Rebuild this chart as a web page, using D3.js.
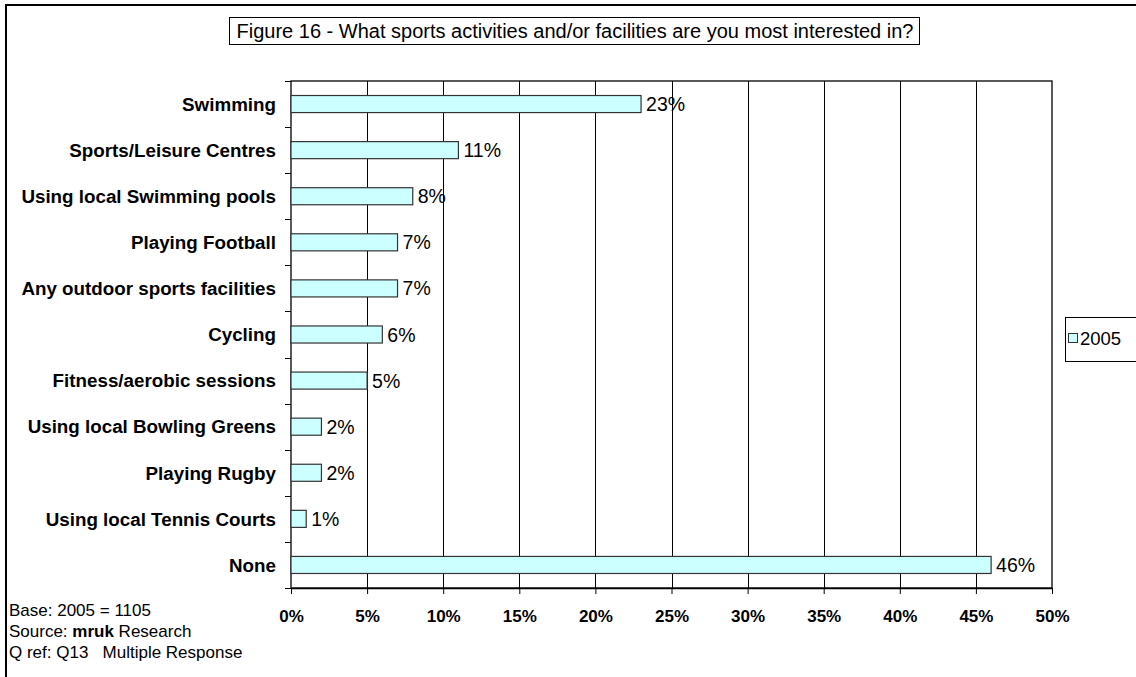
<!DOCTYPE html>
<html>
<head>
<meta charset="utf-8">
<script src="https://cdn.jsdelivr.net/npm/d3@7"></script>
<style>
  html, body { margin: 0; padding: 0; background: #fff; }
  svg { display: block; font-family: "Liberation Sans", Arial, sans-serif; }
</style>
</head>
<body>
<svg id="chart" width="1136" height="677"></svg>
<script>
// Survey responses, share of respondents (%)
const categories = [
  "Swimming",
  "Sports/Leisure Centres",
  "Using local Swimming pools",
  "Playing Football",
  "Any outdoor sports facilities",
  "Cycling",
  "Fitness/aerobic sessions",
  "Using local Bowling Greens",
  "Playing Rugby",
  "Using local Tennis Courts",
  "None"
];
const values2005 = [23, 11, 8, 7, 7, 6, 5, 2, 2, 1, 46];
const xTicks = [0, 5, 10, 15, 20, 25, 30, 35, 40, 45, 50];
const seriesName = "2005";
const titleText = "Figure 16 - What sports activities and/or facilities are you most interested in?";
const footLines = ["Base: 2005 = 1105", "Source: ", "Q ref: Q13   Multiple Response"];

const svg = d3.select("#chart");
const W = 1136, H = 677;
const plot = { left: 291, right: 1052, top: 81, bottom: 588 };

// Outer chart frame (runs off the right and bottom edges)
svg.append("rect")
  .attr("x", 6).attr("y", 5)
  .attr("width", W + 20).attr("height", H + 20)
  .attr("fill", "#fff").attr("stroke", "#000").attr("stroke-width", 2);

const x = d3.scaleLinear().domain([0, 50]).range([plot.left, plot.right]);
const y = d3.scaleBand().domain(categories).range([plot.top, plot.bottom]).paddingInner(0.63).paddingOuter(0.315);

// Plot area
svg.append("rect")
  .attr("x", plot.left).attr("y", plot.top)
  .attr("width", plot.right - plot.left).attr("height", plot.bottom - plot.top)
  .attr("fill", "#fff").attr("stroke", "#000").attr("stroke-width", 1.3);

// Vertical gridlines
svg.append("g").selectAll("line").data(xTicks.slice(1, -1)).join("line")
  .attr("x1", d => Math.round(x(d)) + 0.5).attr("x2", d => Math.round(x(d)) + 0.5)
  .attr("y1", plot.top).attr("y2", plot.bottom)
  .attr("stroke", "#000").attr("stroke-width", 1);

// X axis
const xAxis = svg.append("g")
  .attr("transform", `translate(0,${plot.bottom})`)
  .call(d3.axisBottom(x).tickValues(xTicks).tickFormat(d => d + "%").tickSize(6).tickSizeOuter(0));
xAxis.select(".domain").attr("stroke", "#000").attr("stroke-width", 1.3);
xAxis.selectAll(".tick line").attr("stroke", "#000");
xAxis.selectAll(".tick text")
  .attr("y", 22)
  .attr("fill", "#000")
  .style("font-size", "17px").style("font-weight", "bold")
  .style("font-family", "'Liberation Sans', Arial, sans-serif");

// Y axis ticks at band boundaries
const boundaries = d3.range(categories.length + 1).map(i => plot.top + i * (plot.bottom - plot.top) / categories.length);
svg.append("g").selectAll("line").data(boundaries).join("line")
  .attr("x1", plot.left - 6).attr("x2", plot.left)
  .attr("y1", d => Math.round(d) + 0.5).attr("y2", d => Math.round(d) + 0.5)
  .attr("stroke", "#000");

// Category labels
svg.append("g").selectAll("text").data(categories).join("text")
  .attr("x", 276)
  .attr("y", d => y(d) + y.bandwidth() / 2)
  .attr("dy", "0.36em")
  .attr("text-anchor", "end")
  .attr("fill", "#000")
  .style("font-size", "18.8px").style("font-weight", "bold")
  .text(d => d);

// Bars
svg.append("g").selectAll("rect").data(categories).join("rect")
  .attr("x", x(0))
  .attr("y", d => y(d))
  .attr("width", (d, i) => x(values2005[i]) - x(0))
  .attr("height", y.bandwidth())
  .attr("fill", "#CCFFFF")
  .attr("stroke", "#333").attr("stroke-width", 1.2);

// Value labels
svg.append("g").selectAll("text").data(categories).join("text")
  .attr("x", (d, i) => x(values2005[i]) + 5)
  .attr("y", d => y(d) + y.bandwidth() / 2)
  .attr("dy", "0.36em")
  .attr("fill", "#000")
  .style("font-size", "19.5px")
  .text((d, i) => values2005[i] + "%");

// Title box
const titleG = svg.append("g");
titleG.append("rect")
  .attr("x", 229.5).attr("y", 17.5).attr("width", 690).attr("height", 27)
  .attr("fill", "#fff").attr("stroke", "#000");
titleG.append("text")
  .attr("x", 575).attr("y", 38)
  .attr("text-anchor", "middle")
  .attr("fill", "#000")
  .style("font-size", "20px")
  .text(titleText);

// Legend
const legG = svg.append("g");
legG.append("rect")
  .attr("x", 1065.5).attr("y", 317.5).attr("width", 90).attr("height", 44)
  .attr("fill", "#fff").attr("stroke", "#000");
legG.append("rect")
  .attr("x", 1068.5).attr("y", 333.5).attr("width", 9).attr("height", 9)
  .attr("fill", "#CCFFFF").attr("stroke", "#333");
legG.append("text")
  .attr("x", 1080).attr("y", 345)
  .attr("fill", "#000")
  .style("font-size", "18.5px")
  .text(seriesName);

// Footnotes
const foot = svg.append("g").style("font-size", "17px").attr("fill", "#000");
foot.append("text").attr("x", 9).attr("y", 616).text(footLines[0]);
const src = foot.append("text").attr("x", 9).attr("y", 637);
src.append("tspan").text(footLines[1]);
src.append("tspan").style("font-weight", "bold").text("mruk");
src.append("tspan").text(" Research");
foot.append("text").attr("x", 9).attr("y", 658).attr("xml:space", "preserve").style("white-space", "pre").text(footLines[2]);
</script>
</body>
</html>
